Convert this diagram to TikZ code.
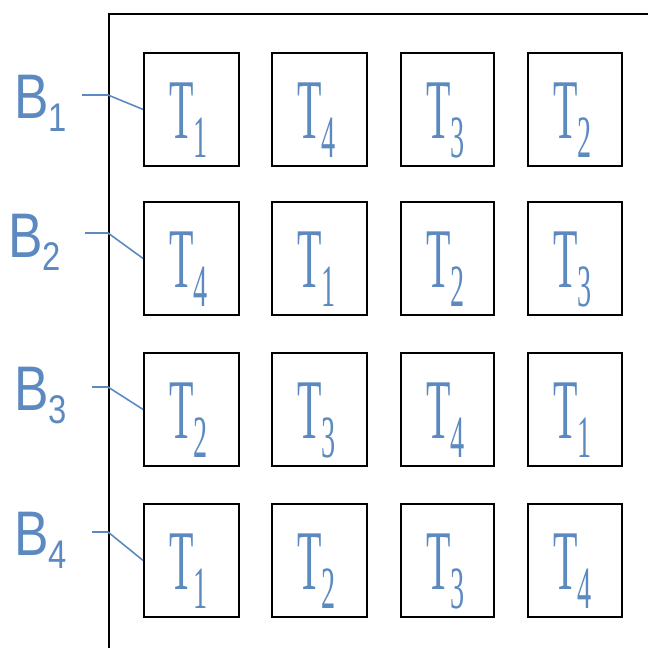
\documentclass[tikz,border=0pt]{standalone}
\usepackage{fontspec}
\setmainfont{Liberation Serif}
\newfontfamily\labfont{Liberation Sans}
\definecolor{tblue}{RGB}{92,138,192}
\tikzset{
  cell/.style={draw=black, line width=1.8pt, minimum width=95pt, minimum height=113pt, inner sep=0pt, anchor=north west},
  tlabel/.style={text=tblue, inner sep=0pt, anchor=base west},
  blabel/.style={text=tblue, inner sep=0pt, anchor=base west},
  leader/.style={draw=tblue, line width=1.6pt},
  frameline/.style={draw=black, line width=2pt}
}
\newcommand{\Tsub}[1]{\scalebox{0.47}[1]{\fontsize{85}{85}\selectfont T\raisebox{-19pt}{\fontsize{60}{60}\selectfont #1}}}
\newcommand{\Bsub}[1]{\scalebox{0.82}[1]{\labfont\fontsize{63}{63}\selectfont B\raisebox{-13pt}{\fontsize{40}{40}\selectfont #1}}}
\begin{document}
\begin{tikzpicture}[x=1pt,y=-1pt]
\useasboundingbox (0,0) rectangle (648,648);
\draw[frameline] (109,660) -- (109,14) -- (660,14);
\foreach \r/\y/\a/\b/\c/\d in {1/52/1/4/3/2, 2/201/4/1/2/3, 3/352/2/3/4/1, 4/503/1/2/3/4}{
  \node[cell] (b\r1) at (143,\y) {};
  \node[cell] (b\r2) at (271,\y) {};
  \node[cell, minimum width=93pt] (b\r3) at (400,\y) {};
  \node[cell, minimum width=94pt] (b\r4) at (527,\y) {};
  \node[tlabel] (t\r1) at (169,\y+86) {\Tsub{\a}};
  \node[tlabel] (t\r2) at (297,\y+86) {\Tsub{\b}};
  \node[tlabel] (t\r3) at (426,\y+86) {\Tsub{\c}};
  \node[tlabel] (t\r4) at (553,\y+86) {\Tsub{\d}};
}
\node[blabel] (L1) at (14,118) {\Bsub{1}};
\node[blabel] (L2) at (8,257) {\Bsub{2}};
\node[blabel] (L3) at (14,410) {\Bsub{3}};
\node[blabel] (L4) at (14,555) {\Bsub{4}};
\coordinate (s1) at (82,95);  \coordinate (j1) at (108,95);
\coordinate (s2) at (85,233); \coordinate (j2) at (108,233);
\coordinate (s3) at (92,387); \coordinate (j3) at (108,387);
\coordinate (s4) at (92,532); \coordinate (j4) at (108,532);
\foreach \i in {1,2,3,4}{
  \draw[leader] (s\i) -- (j\i) -- (b\i1.west);
}
\end{tikzpicture}
\end{document}
